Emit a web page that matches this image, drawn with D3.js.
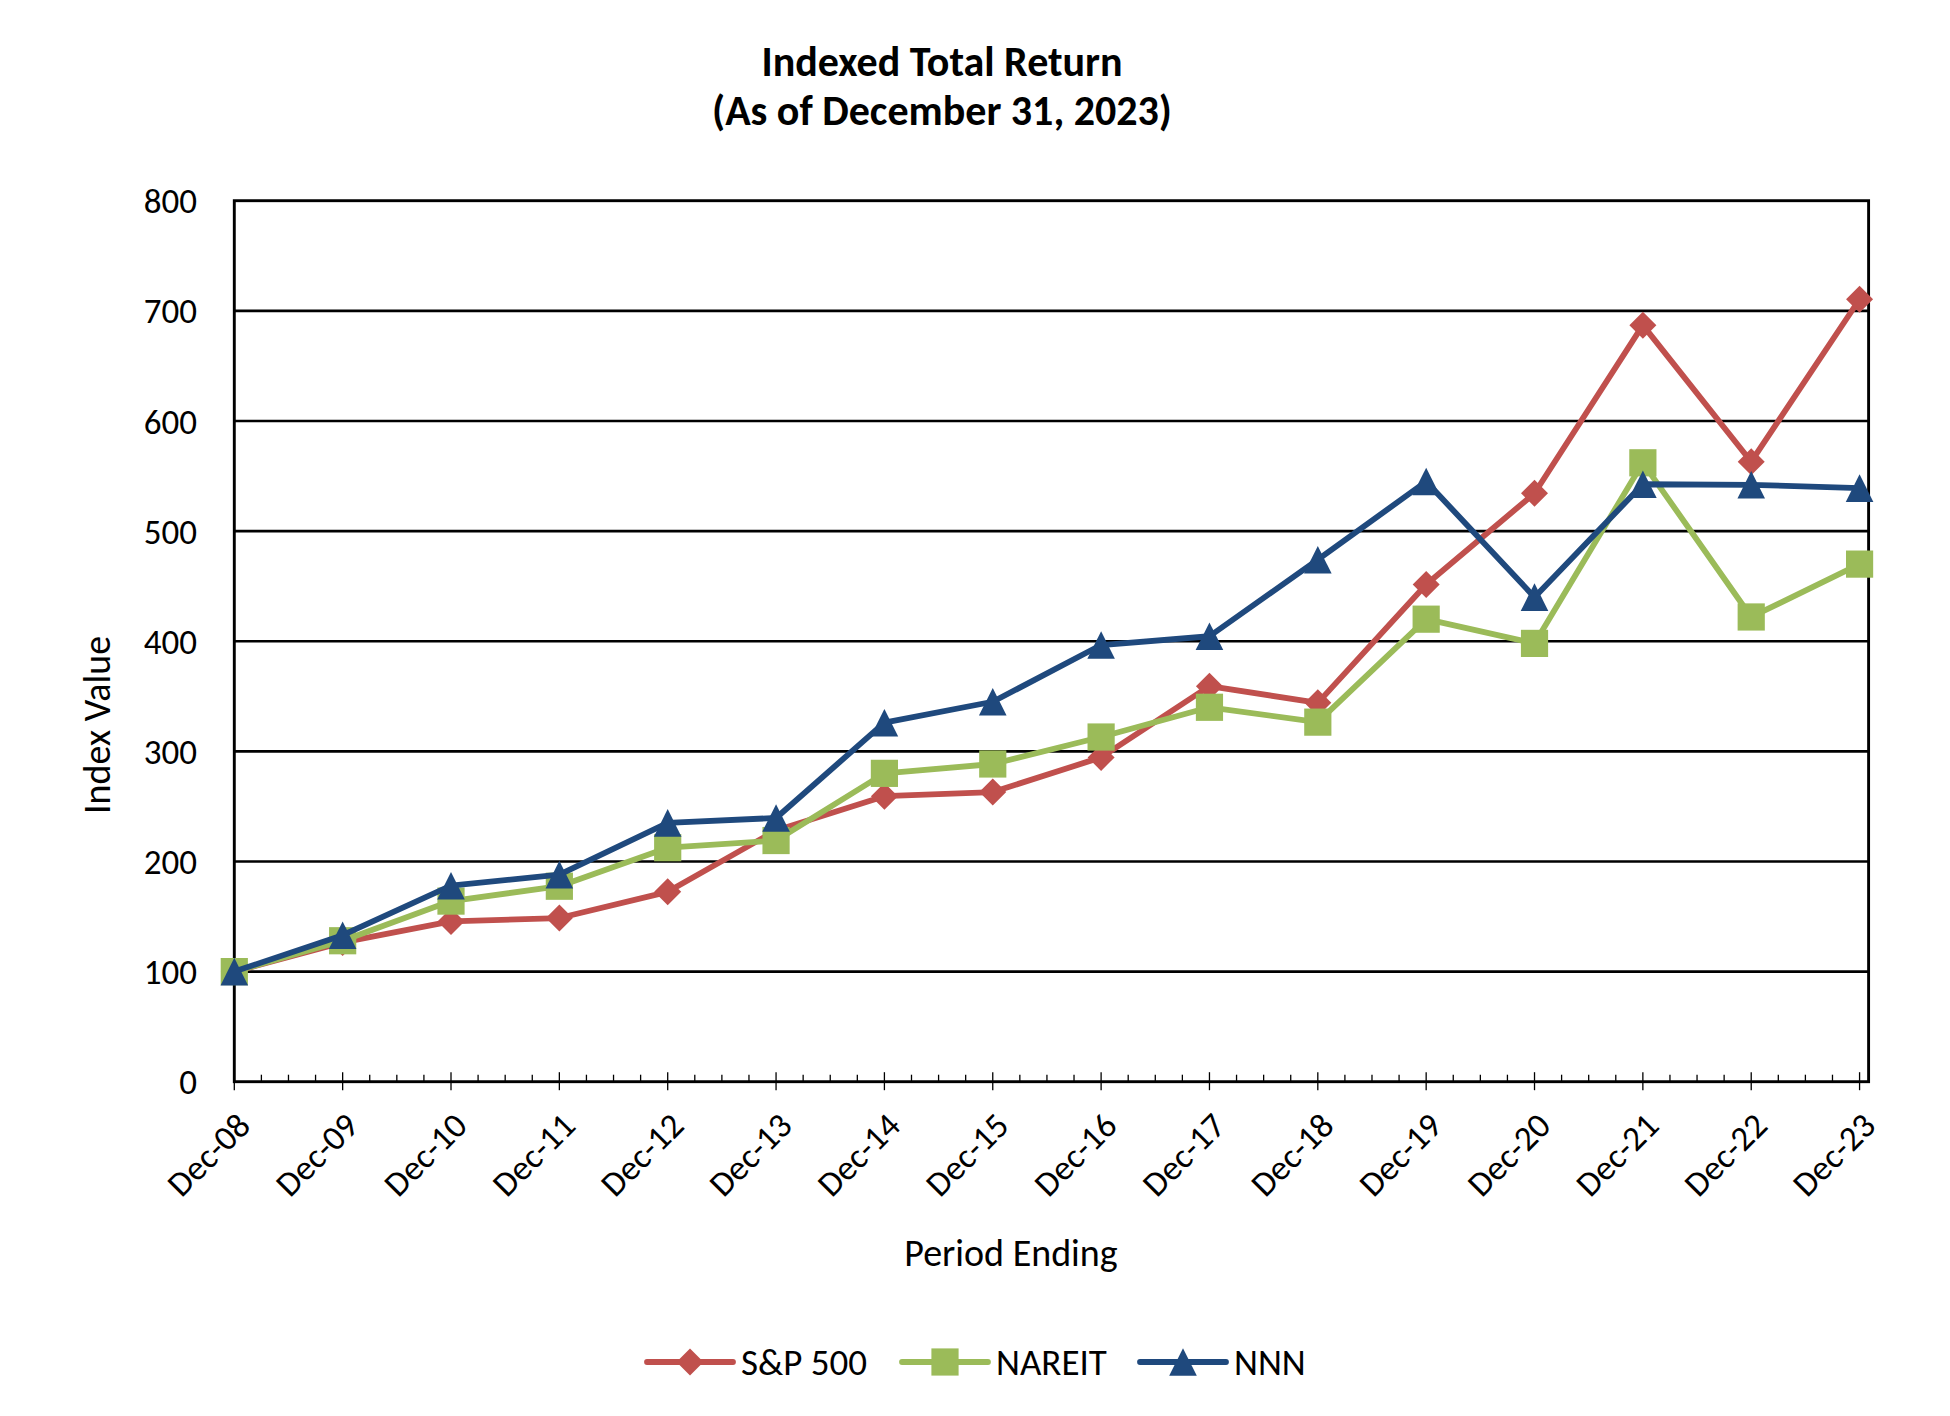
<!DOCTYPE html>
<html>
<head>
<meta charset="utf-8">
<script src="https://cdn.jsdelivr.net/npm/d3@7/dist/d3.min.js"></script>
<style>
  html, body { margin: 0; padding: 0; background: #ffffff; }
  svg { display: block; }
  text { font-family: Carlito, Calibri, Lato, "Open Sans", sans-serif; fill: #000; }
</style>
</head>
<body>
<svg id="chart" width="1950" height="1416"></svg>
<script>
// ---------------- data ----------------
const categories = ["Dec-08","Dec-09","Dec-10","Dec-11","Dec-12","Dec-13","Dec-14","Dec-15",
                    "Dec-16","Dec-17","Dec-18","Dec-19","Dec-20","Dec-21","Dec-22","Dec-23"];
const sp500  = [100, 126.5, 145.5, 148.6, 172.4, 228.2, 259.3, 263.0, 294.5, 359.2, 344.0, 451.5, 534.3, 687.0, 563.0, 710.5];
const nareit = [100, 128.0, 164.0, 177.5, 212.5, 219.0, 280.0, 288.5, 313.0, 340.0, 326.5, 420.0, 398.0, 562.0, 422.0, 470.0];
const nnn    = [100, 133.0, 178.0, 188.0, 235.0, 239.5, 326.0, 345.0, 396.5, 404.5, 474.0, 545.0, 440.0, 542.5, 542.0, 539.0];
const yTicks = [0, 100, 200, 300, 400, 500, 600, 700, 800];
const seriesNames = ["S&P 500", "NAREIT", "NNN"];
const titleLines = ["Indexed Total Return", "(As of December 31, 2023)"];

(function () {
// ---------------- layout ----------------
const svg = d3.select("#chart");
const pLeft = 234.3, pRight = 1868.6, pTop = 200.7, pBottom = 1081.7;
// month-based date axis: Dec-08 = month 0, axis runs to Jan-24 (month 181)
const monthOf = i => i * 12;
const x = d3.scaleLinear().domain([0, 181]).range([pLeft, pRight]);
const y = d3.scaleLinear().domain([0, 800]).range([pBottom, pTop]);

const colors = ["#C0504D", "#9BBB59", "#1F497D"];

// Excel-style marker shapes (half-size h), centred on the point
const diamondSym = { draw(ctx, h) { ctx.moveTo(0, -h); ctx.lineTo(h, 0); ctx.lineTo(0, h); ctx.lineTo(-h, 0); ctx.closePath(); } };
const squareSym  = { draw(ctx, h) { ctx.rect(-h, -h, 2 * h, 2 * h); } };
const triSym     = { draw(ctx, h) { ctx.moveTo(0, -h); ctx.lineTo(h, h); ctx.lineTo(-h, h); ctx.closePath(); } };
const symbols = [diamondSym, squareSym, triSym];
const markerHalf = [13.5, 13.6, 13.8];
const series = [sp500, nareit, nnn];

// title
svg.append("g").selectAll("text").data(titleLines).join("text")
  .attr("x", 942).attr("y", (d, i) => 76 + i * 49)
  .attr("text-anchor", "middle")
  .attr("font-size", 42).attr("font-weight", "bold")
  .text(d => d);

// gridlines
svg.append("g").selectAll("line").data(yTicks.filter(t => t > 0 && t < 800)).join("line")
  .attr("x1", pLeft).attr("x2", pRight)
  .attr("y1", d => y(d)).attr("y2", d => y(d))
  .attr("stroke", "#000").attr("stroke-width", 2.6);

// plot border
svg.append("rect")
  .attr("x", pLeft).attr("y", pTop)
  .attr("width", pRight - pLeft).attr("height", pBottom - pTop)
  .attr("fill", "none").attr("stroke", "#000").attr("stroke-width", 2.9);

// y tick labels
svg.append("g").selectAll("text").data(yTicks).join("text")
  .attr("x", 197).attr("y", d => y(d))
  .attr("dy", "0.36em")
  .attr("text-anchor", "end")
  .attr("font-size", 35)
  .text(d => d);

// x ticks: major every 12 months, minor every 3 months
const minorMonths = d3.range(0, 181, 3).filter(m => m % 12 !== 0);
svg.append("g").selectAll("line").data(minorMonths).join("line")
  .attr("x1", d => x(d)).attr("x2", d => x(d))
  .attr("y1", pBottom - 7).attr("y2", pBottom)
  .attr("stroke", "#000").attr("stroke-width", 1.3);
svg.append("g").selectAll("line").data(categories).join("line")
  .attr("x1", (d, i) => x(monthOf(i))).attr("x2", (d, i) => x(monthOf(i)))
  .attr("y1", pBottom - 9.5).attr("y2", pBottom + 8.5)
  .attr("stroke", "#000").attr("stroke-width", 1.3);

// x tick labels (rotated -45)
svg.append("g").selectAll("text").data(categories).join("text")
  .attr("transform", (d, i) => `translate(${x(monthOf(i)) + 18},${pBottom + 46}) rotate(-45)`)
  .attr("text-anchor", "end")
  .attr("font-size", 35)
  .text(d => d);

// axis titles
svg.append("text")
  .attr("transform", `translate(110,725) rotate(-90)`)
  .attr("text-anchor", "middle")
  .attr("font-size", 38)
  .text("Index Value");
svg.append("text")
  .attr("x", 1011).attr("y", 1266)
  .attr("text-anchor", "middle")
  .attr("font-size", 38)
  .text("Period Ending");

// series
const line = d3.line().x((d, i) => x(monthOf(i))).y(d => y(d));
series.forEach((vals, s) => {
  const g = svg.append("g");
  g.append("path").datum(vals)
    .attr("d", line)
    .attr("fill", "none")
    .attr("stroke", colors[s])
    .attr("stroke-width", 5.8)
    .attr("stroke-linejoin", "round")
    .attr("stroke-linecap", "round");
  g.selectAll("path.m").data(vals).join("path").attr("class", "m")
    .attr("transform", (d, i) => `translate(${x(monthOf(i))},${y(d)})`)
    .attr("d", d3.symbol().type(symbols[s]).size(markerHalf[s]))
    .attr("fill", colors[s]);
});

// legend
const legendX = [647, 902, 1140];
const lg = svg.append("g");
seriesNames.forEach((name, s) => {
  const lx = legendX[s], ly = 1362;
  lg.append("line")
    .attr("x1", lx).attr("x2", lx + 86)
    .attr("y1", ly).attr("y2", ly)
    .attr("stroke", colors[s]).attr("stroke-width", 5.8)
    .attr("stroke-linecap", "round");
  lg.append("path")
    .attr("transform", `translate(${lx + 43},${ly})`)
    .attr("d", d3.symbol().type(symbols[s]).size(markerHalf[s]))
    .attr("fill", colors[s]);
  lg.append("text")
    .attr("x", lx + 94).attr("y", ly + 13)
    .attr("font-size", 37)
    .text(name);
});
})();
</script>
</body>
</html>
